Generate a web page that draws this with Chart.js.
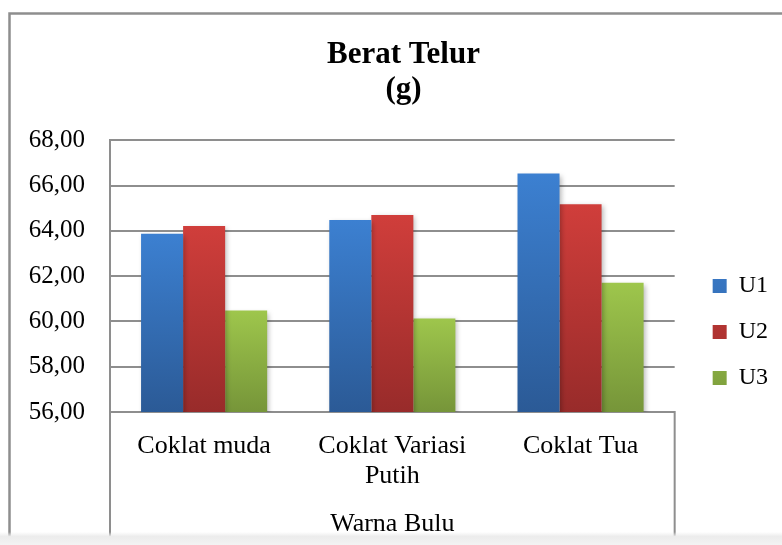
<!DOCTYPE html>
<html>
<head>
<meta charset="utf-8">
<script src="https://cdn.jsdelivr.net/npm/chart.js@4/dist/chart.umd.min.js"></script>
<style>
  html, body { margin: 0; padding: 0; background: #fff; }
  #wrap { width: 782px; height: 545px; }
</style>
</head>
<body>
<div id="wrap"><canvas id="chart" width="782" height="545"></canvas></div>
<script>
// data
var categories = ['Coklat muda', ['Coklat Variasi', 'Putih'], 'Coklat Tua'];
var seriesNames = ['U1', 'U2', 'U3'];
var u1Values = [63.87, 64.48, 66.53];
var u2Values = [64.22, 64.70, 65.18];
var u3Values = [60.48, 60.13, 61.71];
var yTickValues = [56, 58, 60, 62, 64, 66, 68];

var topColors = ['#3c80d1', '#d03e3b', '#9ec64c'];
var midColors = ['#3670b8', '#bb3633', '#8bb044'];
var bottomColors = ['#2b5a96', '#982b2a', '#769539'];
var serif = "'Liberation Serif', 'Times New Roman', serif";

function barFill(i) {
  return function(ctx) {
    var chart = ctx.chart;
    if (ctx.type !== 'data' || !chart.chartArea || !ctx.parsed) return midColors[i];
    var y = chart.scales.y;
    var top = y.getPixelForValue(ctx.parsed.y);
    var base = y.getPixelForValue(y.min);
    if (!isFinite(top) || !isFinite(base)) return midColors[i];
    var g = chart.ctx.createLinearGradient(0, top, 0, base);
    g.addColorStop(0, topColors[i]);
    g.addColorStop(1, bottomColors[i]);
    return g;
  };
}

var frame = {
  id: 'frame',
  beforeDraw: function(chart) {
    var c = chart.ctx;
    c.save();
    c.fillStyle = '#fff';
    c.fillRect(0, 0, chart.width, chart.height);
    c.strokeStyle = '#8e8e8e';
    c.lineWidth = 2.5;
    c.strokeRect(9.5, 13.5, 820, 560);
    c.restore();
  },
  beforeDatasetsDraw: function(chart) {
    var c = chart.ctx;
    c.save();
    c.shadowColor = 'rgba(0,0,0,0.28)';
    c.shadowBlur = 5;
    c.shadowOffsetX = 2;
    c.shadowOffsetY = 2;
  },
  afterDatasetsDraw: function(chart) {
    chart.ctx.restore();
  },
  afterDraw: function(chart) {
    var c = chart.ctx, a = chart.chartArea;
    c.save();
    c.strokeStyle = '#8e8e8e';
    c.lineWidth = 2;
    c.beginPath();
    c.moveTo(a.left, a.bottom);
    c.lineTo(a.left, 538);
    c.moveTo(a.right, a.bottom - 1);
    c.lineTo(a.right, 538);
    c.stroke();
    var g = c.createLinearGradient(0, 532, 0, 545);
    g.addColorStop(0, 'rgba(235,235,235,0)');
    g.addColorStop(0.35, '#ececec');
    g.addColorStop(1, '#f3f3f3');
    c.fillStyle = g;
    c.fillRect(0, 532, chart.width, 13);
    c.restore();
  }
};

var datasets = [u1Values, u2Values, u3Values].map(function(vals, i) {
  return {
    label: seriesNames[i],
    data: vals,
    backgroundColor: barFill(i),
    borderWidth: 0,
    categoryPercentage: 0.67,
    barPercentage: 1.0
  };
});

new Chart(document.getElementById('chart'), {
  type: 'bar',
  data: { labels: categories, datasets: datasets },
  plugins: [frame],
  options: {
    responsive: false,
    animation: false,
    devicePixelRatio: 1,
    layout: { padding: { left: 29, right: 4, top: 0, bottom: 0 } },
    plugins: {
      tooltip: { enabled: false },
      title: {
        display: true,
        text: ['Berat Telur', '(g)'],
        color: '#000',
        font: { family: serif, size: 31, weight: 'bold', lineHeight: 1.15 },
        padding: { top: 37, bottom: 32 }
      },
      legend: {
        position: 'right',
        align: 'end',
        fullSize: false,
        labels: {
          color: '#000',
          font: { family: serif, size: 24 },
          boxWidth: 14,
          boxHeight: 14,
          padding: 22
        }
      }
    },
    scales: {
      x: {
        grid: { display: false },
        border: { display: true, color: '#8e8e8e', width: 2 },
        afterFit: function(scale) { scale.height = 133; },
        ticks: {
          color: '#000',
          padding: 11,
          maxRotation: 0,
          font: { family: serif, size: 26, lineHeight: 1.154 }
        },
        title: {
          display: true,
          text: 'Warna Bulu',
          color: '#000',
          font: { family: serif, size: 26, lineHeight: 1.154 },
          padding: { top: 12, bottom: 6 }
        }
      },
      y: {
        min: 56,
        max: 68,
        afterBuildTicks: function(scale) {
          scale.ticks = yTickValues.map(function(v) { return { value: v }; });
        },
        afterFit: function(scale) { scale.width = 81; },
        grid: { color: '#8e8e8e', lineWidth: 2, drawTicks: false },
        border: { display: true, color: '#8e8e8e', width: 2 },
        ticks: {
          color: '#000',
          padding: 25,
          font: { family: serif, size: 25 },
          callback: function(v) { return Number(v).toFixed(2).replace('.', ','); }
        }
      },
      gap: {
        type: 'linear',
        position: 'right',
        display: true,
        grid: { display: false },
        border: { display: false },
        ticks: { display: false },
        afterFit: function(scale) { scale.width = 16; }
      }
    }
  }
});
</script>
</body>
</html>
